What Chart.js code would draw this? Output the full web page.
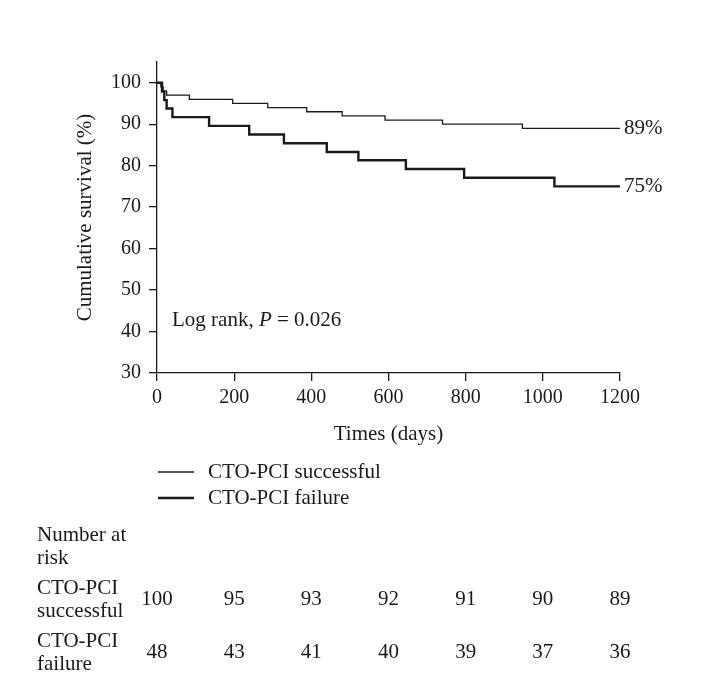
<!DOCTYPE html>
<html>
<head>
<meta charset="utf-8">
<title>Cumulative survival</title>
<script src="https://cdn.jsdelivr.net/npm/chart.js@4.4.1/dist/chart.umd.min.js"></script>
<style>
    html, body { margin: 0; padding: 0; background: #fff; }
    #wrap { width: 708px; height: 691px; position: relative; }
</style>
</head>
<body>
<div id="wrap"><canvas id="km-chart"></canvas></div>
<script>
    // Kaplan-Meier steps (day, survival %)
    var successDays = [0, 10, 16, 25, 84, 196, 287, 388, 480, 591, 740, 947, 1200];
    var successSurv = [100, 99, 98, 97, 96, 95, 94, 93, 92, 91, 90, 89, 89];
    var failureDays = [0, 13, 19, 25, 40, 135, 239, 329, 440, 522, 645, 796, 1030, 1200];
    var failureSurv = [100, 97.9, 95.8, 93.8, 91.7, 89.6, 87.5, 85.4, 83.3, 81.3, 79.2, 77.1, 75, 75];

    var seriesNames = ["CTO-PCI successful", "CTO-PCI failure"];
    var endLabels = ["89%", "75%"];

    // axis ticks
    var xTicks = [0, 200, 400, 600, 800, 1000, 1200];
    var yTicks = [30, 40, 50, 60, 70, 80, 90, 100];

    // Number at risk
    var riskDays = [0, 200, 400, 600, 800, 1000, 1200];
    var riskSuccess = [100, 95, 93, 92, 91, 90, 89];
    var riskFailure = [48, 43, 41, 40, 39, 37, 36];
    var riskRowNames = [["CTO-PCI", "successful"], ["CTO-PCI", "failure"]];

    var SERIF = '"Liberation Serif", "DejaVu Serif", serif';
    var INK = "#1a1a1a";

    function toPoints(days, surv) {
        return days.map(function (d, i) { return {x: d, y: surv[i]}; });
    }

    // Extra drawing: end labels, log rank note, legend, risk table
    var extras = {
        id: "extras",
        afterDraw: function (chart) {
            var ctx = chart.ctx;
            var xs = chart.scales.x;
            var ys = chart.scales.y;
            var area = chart.chartArea;
            ctx.save();
            ctx.fillStyle = INK;
            ctx.textBaseline = "middle";
            ctx.font = "21px " + SERIF;

            // percentages at the end of each curve
            chart.data.datasets.forEach(function (ds, i) {
                var last = ds.data[ds.data.length - 1];
                ctx.textAlign = "left";
                ctx.fillText(endLabels[i], area.right + 4, ys.getPixelForValue(last.y));
            });

            // Log rank, P = 0.026
            var lx = area.left + 15, ly = 320;
            ctx.textAlign = "left";
            ctx.fillText("Log rank, ", lx, ly);
            lx += ctx.measureText("Log rank, ").width;
            ctx.font = "italic 21px " + SERIF;
            ctx.fillText("P", lx, ly);
            lx += ctx.measureText("P").width;
            ctx.font = "21px " + SERIF;
            ctx.fillText(" = 0.026", lx, ly);

            // legend
            var legY = [472, 498];
            chart.data.datasets.forEach(function (ds, i) {
                ctx.strokeStyle = ds.borderColor;
                ctx.lineWidth = ds.borderWidth;
                ctx.beginPath();
                ctx.moveTo(158, legY[i]);
                ctx.lineTo(194, legY[i]);
                ctx.stroke();
                ctx.fillText(ds.label, 208, legY[i]);
            });

            // number at risk table
            ctx.textAlign = "left";
            ctx.fillText("Number at", 37, 535);
            ctx.fillText("risk", 37, 558);
            var rows = [riskSuccess, riskFailure];
            var rowY = [599, 652];
            rows.forEach(function (vals, r) {
                ctx.textAlign = "left";
                ctx.fillText(riskRowNames[r][0], 37, rowY[r] - 11);
                ctx.fillText(riskRowNames[r][1], 37, rowY[r] + 12);
                ctx.textAlign = "center";
                vals.forEach(function (v, k) {
                    ctx.fillText(String(v), xs.getPixelForValue(riskDays[k]), rowY[r]);
                });
            });
            ctx.restore();
        }
    };

    var ctx1 = document.getElementById("km-chart").getContext("2d");
    var kmChart = new Chart(ctx1, {
        type: "line",
        data: {
            datasets: [{
                label: seriesNames[0],
                data: toPoints(successDays, successSurv),
                borderColor: INK,
                borderWidth: 1.3,
                stepped: true,
                pointRadius: 0,
                fill: false
            }, {
                label: seriesNames[1],
                data: toPoints(failureDays, failureSurv),
                borderColor: INK,
                borderWidth: 2.4,
                stepped: true,
                pointRadius: 0,
                fill: false
            }]
        },
        options: {
            responsive: true,
            maintainAspectRatio: false,
            animation: false,
            layout: {
                padding: {left: 57, right: 88, top: 62, bottom: 244}
            },
            plugins: {
                legend: {display: false},
                tooltip: {enabled: false}
            },
            scales: {
                x: {
                    type: "linear",
                    min: 0,
                    max: 1200,
                    afterFit: function (s) { s.height = 74; },
                    afterBuildTicks: function (s) {
                        s.ticks = xTicks.map(function (v) { return {value: v}; });
                    },
                    border: {display: true, color: INK, width: 1.3},
                    grid: {drawOnChartArea: false, drawTicks: true, tickLength: 8, color: INK, lineWidth: 1.3},
                    ticks: {autoSkip: false, maxRotation: 0, padding: 5, color: INK,
                        callback: function (v) { return String(v); },
                        font: {family: SERIF, size: 20}},
                    title: {display: true, text: "Times (days)", color: INK, padding: 0,
                        font: {family: SERIF, size: 21}}
                },
                y: {
                    min: 30,
                    max: 105,
                    afterFit: function (s) { s.width = 100; },
                    afterBuildTicks: function (s) {
                        s.ticks = yTicks.map(function (v) { return {value: v}; });
                    },
                    border: {display: true, color: INK, width: 1.3},
                    grid: {drawOnChartArea: false, drawTicks: true, tickLength: 8, color: INK, lineWidth: 1.3},
                    ticks: {padding: 8, color: INK,
                        callback: function (v) { return String(v); },
                        font: {family: SERIF, size: 20}},
                    title: {display: true, text: "Cumulative survival (%)", color: INK,
                        padding: {top: 16, bottom: 0}, font: {family: SERIF, size: 21}}
                }
            }
        },
        plugins: [extras]
    });
</script>
</body>
</html>
